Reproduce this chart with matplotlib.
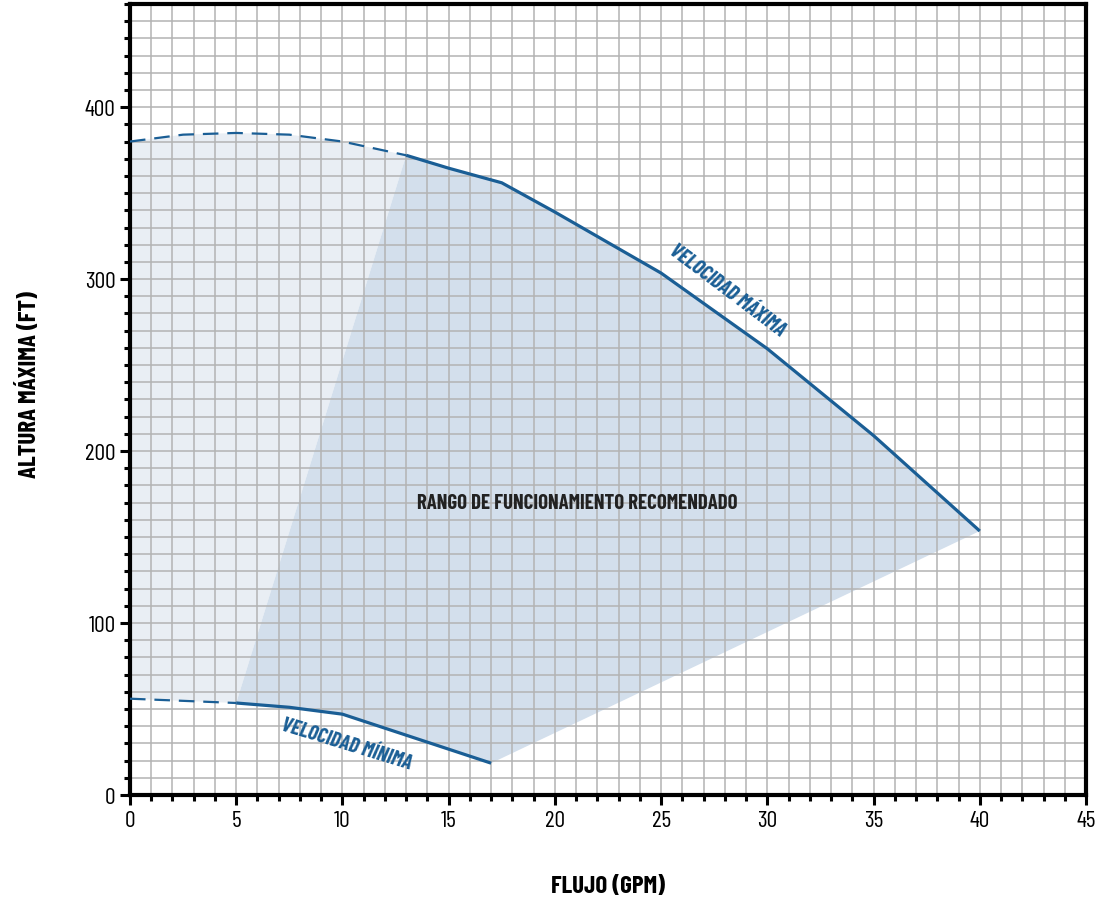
import matplotlib
matplotlib.use('Agg')
import matplotlib.pyplot as plt
from matplotlib.ticker import MultipleLocator

# curve data
max_dash_x = [0, 2.5, 5, 7.5, 10, 13]
max_dash_y = [380, 384, 385, 384, 380, 372]
max_x = [13, 15, 17.5, 20, 25, 30, 35, 40]
max_y = [372, 364.5, 356, 339, 303.5, 259.5, 209, 153.5]

min_dash_x = [0, 5]
min_dash_y = [56, 53.5]
min_x = [5, 7.5, 10, 17]
min_y = [53.5, 51, 47, 18.5]

xticks = [0, 5, 10, 15, 20, 25, 30, 35, 40, 45]
yticks = [0, 100, 200, 300, 400]

blue = '#1a5e95'
plt.rcParams['font.family'] = ['Barlow Condensed', 'DejaVu Sans']

fig = plt.figure(figsize=(10.96, 9.03), dpi=100)
ax = fig.add_axes([0.1186, 0.1185, 0.8723, 0.876])

# light region (extended curves)
lx = max_dash_x + min_dash_x[::-1]
ly = max_dash_y + min_dash_y[::-1]
ax.fill(lx, ly, color='#e9eef4', zorder=0.2, lw=0)

# recommended operating range
rx = max_x + min_x[::-1]
ry = max_y + min_y[::-1]
ax.fill(rx, ry, color='#d3dfec', zorder=0.3, lw=0)

ax.plot(max_dash_x, max_dash_y, color=blue, lw=1.6, ls=(0, (7, 4)), zorder=3)
ax.plot(min_dash_x, min_dash_y, color=blue, lw=1.6, ls=(0, (7, 4)), zorder=3)
ax.plot(max_x, max_y, color=blue, lw=2.3, zorder=3, solid_capstyle='butt')
ax.plot(min_x, min_y, color=blue, lw=2.3, zorder=3, solid_capstyle='butt')

ax.text(28.1, 294, 'VELOCIDAD MÁXIMA', color=blue, fontsize=15, fontweight='bold',
        rotation=-37, ha='center', va='center', style='italic')
ax.text(10.2, 30, 'VELOCIDAD MÍNIMA', color=blue, fontsize=15, fontweight='bold',
        rotation=-17, ha='center', va='center', style='italic')
ax.text(21.05, 170, 'RANGO DE FUNCIONAMIENTO RECOMENDADO', color='#222222',
        fontsize=15, fontweight='bold', ha='center', va='center')

ax.set_xlim(0, 45)
ax.set_ylim(0, 460)
ax.set_xticks(xticks)
ax.set_yticks(yticks)
ax.xaxis.set_minor_locator(MultipleLocator(1))
ax.yaxis.set_minor_locator(MultipleLocator(10))
ax.grid(which='both', color='#b3b3b3', lw=1.1)
ax.set_axisbelow(True)
ax.tick_params(which='major', length=7, width=2.2, labelsize=17, direction='out')
ax.tick_params(which='minor', length=4, width=2.2, direction='out')
for s in ax.spines.values():
    s.set_linewidth(3)

ax.set_xlabel('FLUJO (GPM)', fontsize=18, fontweight='bold')
ax.set_ylabel('ALTURA MÁXIMA (FT)', fontsize=18, fontweight='bold')
ax.xaxis.set_label_coords(0.5, -0.101)
ax.yaxis.set_label_coords(-0.093, 0.52)

fig.savefig('out.png', dpi=100)
